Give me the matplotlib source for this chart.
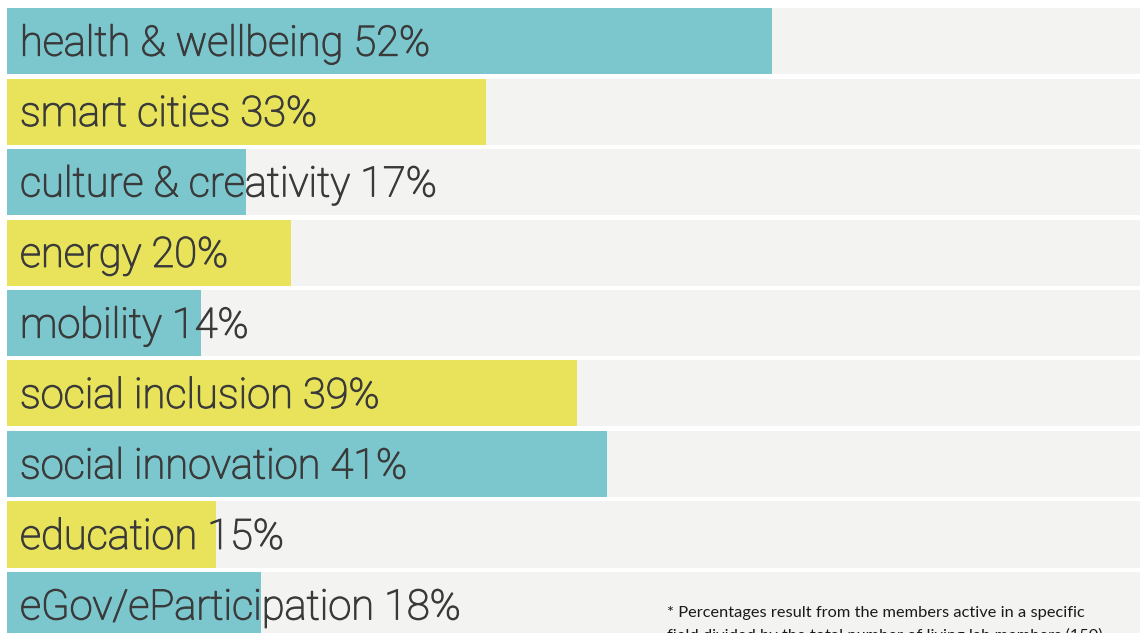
import matplotlib
matplotlib.use("Agg")
import matplotlib.pyplot as plt
import matplotlib.patheffects as pe

categories = ["health & wellbeing", "smart cities", "culture & creativity", "energy",
              "mobility", "social inclusion", "social innovation", "education",
              "eGov/eParticipation"]
values = [52, 33, 17, 20, 14, 39, 41, 15, 18]
bar_colors = ["#7cc7ce", "#e8e35b", "#7cc7ce", "#e8e35b", "#7cc7ce",
              "#e8e35b", "#7cc7ce", "#e8e35b", "#7cc7ce"]
footnote = ["* Percentages result from the members active in a specific",
            "field divided by the total number of living lab members (150)"]

W, H = 1140, 633
fig = plt.figure(figsize=(W / 100, H / 100), dpi=100)
fig.patch.set_facecolor("white")

# axes from pixel x=7 to right edge, full height
ax = fig.add_axes([7 / W, 0, 1 - 7 / W, 1])
ax.set_facecolor("white")
xmin, xmax = 1.09, 76.5
ax.set_xlim(xmin, xmax)
# row pitch 70.5 px, first row centre at 41 px from top
ax.set_ylim((H - 41) / 70.5, -41 / 70.5)
ax.axis("off")

ypos = list(range(len(categories)))
bh = 66 / 70.5
ax.barh(ypos, [xmax] * len(ypos), height=bh, color="#f3f3f2", zorder=1)
ax.barh(ypos, values, height=bh, color=bar_colors, zorder=2)

tc = "#3a3a3a"
tr = ax.get_yaxis_transform()
for y, c, v in zip(ypos, categories, values):
    ax.text(13 / (W - 7), y + 0.04, f"{c} {v}%", transform=tr, ha="left", va="center",
            fontsize=30, color=tc, family=["Roboto", "DejaVu Sans"],
            fontweight="light", zorder=3,
            path_effects=[pe.withStroke(linewidth=0.9, foreground=tc)])

fig.text(667 / W, 1 - 617 / H, footnote[0], ha="left", va="baseline", fontsize=11.8,
         color="#1a1a1a", family=["Lato", "DejaVu Sans"])
fig.text(667 / W, 1 - 640 / H, footnote[1], ha="left", va="baseline", fontsize=11.8,
         color="#1a1a1a", family=["Lato", "DejaVu Sans"])

fig.savefig("out.png", dpi=100, facecolor="white")
